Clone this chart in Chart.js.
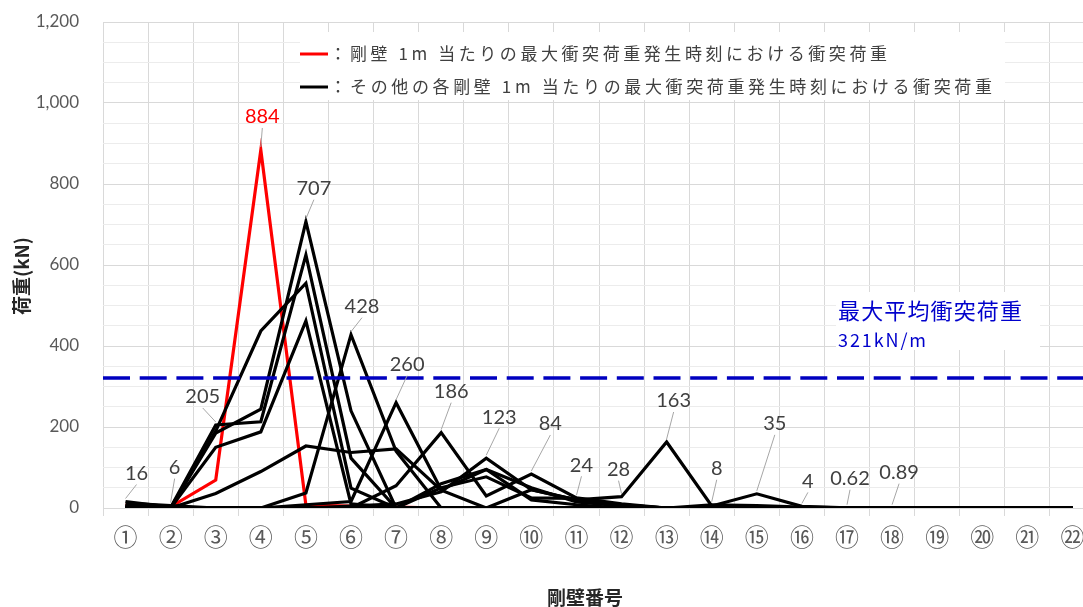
<!DOCTYPE html>
<html><head><meta charset="utf-8">
<script src="https://cdn.jsdelivr.net/npm/chart.js@4.4.1/dist/chart.umd.min.js"></script>
<style>
html,body{margin:0;padding:0;overflow:hidden;background:#fff;width:1083px;height:607px}
canvas{display:block}
</style>
</head><body>
<canvas id="c" width="1100" height="607"></canvas>
<script>
// ---------- data ----------
const wallLabels = ['①','②','③','④','⑤','⑥','⑦','⑧','⑨','⑩','⑪','⑫','⑬','⑭','⑮','⑯','⑰','⑱','⑲','⑳','㉑','㉒'];

// series at the time of the overall maximum per-metre load (red)
const redSeries = [8, 3, 69, 884, 7, 5, 2, 0, 0, 0, 0, 0, 0, 0, 0, 0, 0, 0, 0, 0, 0, 0];

// series at the times of the maximum load of the other walls (black)
const black01 = [16, 2, 0, 0, 0, 0, 0, 0, 0, 0, 0, 0, 0, 0, 0, 0, 0, 0, 0, 0, 0, 0];
const black02 = [12, 6, 0, 0, 0, 0, 0, 0, 0, 0, 0, 0, 0, 0, 0, 0, 0, 0, 0, 0, 0, 0];
const black03 = [6, 1, 205, 213, 625, 123, 0, 0, 0, 0, 0, 0, 0, 0, 0, 0, 0, 0, 0, 0, 0, 0];
const black04 = [4, 0, 185, 244, 707, 240, 0, 0, 0, 0, 0, 0, 0, 0, 0, 0, 0, 0, 0, 0, 0, 0];
const black05 = [3, 0, 190, 437, 555, 49, 0, 0, 0, 0, 0, 0, 0, 0, 0, 0, 0, 0, 0, 0, 0, 0];
const black06 = [2, 0, 150, 188, 462, 10, 0, 0, 0, 0, 0, 0, 0, 0, 0, 0, 0, 0, 0, 0, 0, 0];
const black07 = [5, 0, 36, 90, 153, 137, 146, 44, 0, 0, 0, 0, 0, 0, 0, 0, 0, 0, 0, 0, 0, 0];
const black08 = [0, 0, 0, 0, 37, 428, 140, 0, 0, 0, 0, 0, 0, 0, 0, 0, 0, 0, 0, 0, 0, 0];
const black09 = [0, 0, 0, 0, 8, 16, 260, 45, 95, 20, 8, 0, 0, 0, 0, 0, 0, 0, 0, 0, 0, 0];
const black10 = [0, 0, 0, 0, 0, 0, 55, 186, 30, 84, 25, 10, 0, 0, 0, 0, 0, 0, 0, 0, 0, 0];
const black11 = [0, 0, 0, 0, 0, 5, 10, 40, 123, 45, 20, 8, 0, 0, 0, 0, 0, 0, 0, 0, 0, 0];
const black12 = [0, 0, 0, 0, 0, 0, 0, 60, 95, 50, 15, 5, 0, 0, 0, 0, 0, 0, 0, 0, 0, 0];
const black13 = [0, 0, 0, 0, 0, 0, 0, 50, 77, 25, 24, 8, 0, 0, 0, 0, 0, 0, 0, 0, 0, 0];
const black14 = [0, 0, 0, 0, 0, 0, 0, 0, 0, 45, 20, 28, 163, 5, 35, 4, 0.62, 0.89, 0, 0, 0, 0];
const black15 = [0, 0, 0, 0, 0, 0, 0, 0, 0, 0, 0, 0, 0, 8, 6, 2, 0.5, 0.3, 0, 0, 0, 0];

// maximum load of each wall (data labels)
const peakValues = [16, 6, 205, 884, 707, 428, 260, 186, 123, 84, 24, 28, 163, 8, 35, 4, 0.62, 0.89];
const peakLabels = ['16','6','205','884','707','428','260','186','123','84','24','28','163','8','35','4','0.62','0.89'];
const redPeakIndex = 3;

const avgLoad = 321;
const avgTitle = '最大平均衝突荷重';
const avgText = '321kN/m';
const legendRedText = '剛壁 1m 当たりの最大衝突荷重発生時刻における衝突荷重';
const legendBlackText = 'その他の各剛壁 1m 当たりの最大衝突荷重発生時刻における衝突荷重';
const yTitle = '荷重(kN)';
const xTitle = '剛壁番号';

// ---------- styling (label offsets relative to the point) ----------
const labelOffsets = [[11,-28],[4,-38],[-13,-28],[1.5,-33],[8,-33],[11,-28],[11,-38],[10,-41],[13,-41],
                      [19,-50],[5,-33],[-3,-27],[7,-41],[5,-36],[18,-70],[6,-25],[3,-29],[7,-35]];

const blackSeries = [black01,black02,black03,black04,black05,black06,black07,black08,black09,black10,
                     black11,black12,black13,black14,black15];

function fitText(ctx, text, x, y, width){
  const chars = [...text];
  const ws = chars.map(c => ctx.measureText(c).width);
  const total = ws.reduce((a,b)=>a+b,0);
  const sp = chars.length > 1 ? (width - total) / (chars.length - 1) : 0;
  let cx = x;
  chars.forEach((c,i) => { ctx.fillText(c, cx, y); cx += ws[i] + sp; });
}

const overlay = {
  id: 'overlay',
  beforeDatasetsDraw(chart){
    const ctx = chart.ctx;
    ctx.save();
    ctx.fillStyle = '#ffffff';
    ctx.fillRect(300, 32, 705, 68);
    ctx.fillRect(836, 292, 204, 58);
    ctx.restore();
  },
  afterDatasetsDraw(chart){
    const ctx = chart.ctx, xs = chart.scales.x, ys = chart.scales.y, ca = chart.chartArea;
    ctx.save();
    // average line
    const yAvg = ys.getPixelForValue(avgLoad);
    ctx.strokeStyle = '#0000C0';
    ctx.lineWidth = 3.5;
    ctx.setLineDash([27, 9.7]);
    ctx.beginPath(); ctx.moveTo(ca.left, yAvg); ctx.lineTo(ca.right, yAvg); ctx.stroke();
    ctx.setLineDash([]);
    // data labels with leader lines
    ctx.font = '20px Lato';
    ctx.textAlign = 'center'; ctx.textBaseline = 'middle';
    peakValues.forEach((v,i) => {
      const px = xs.getPixelForValue(i), py = ys.getPixelForValue(v);
      const tx = px + labelOffsets[i][0], ty = py + labelOffsets[i][1];
      const sx = tx, sy = ty + 11, ex = px, ey = py - 3;
      if (Math.hypot(ex-sx, ey-sy) > 6){
        ctx.strokeStyle = '#a6a6a6'; ctx.lineWidth = 1;
        ctx.beginPath(); ctx.moveTo(sx, sy); ctx.lineTo(ex, ey); ctx.stroke();
      }
      ctx.fillStyle = i === redPeakIndex ? '#ff0000' : '#404040';
      ctx.fillText(peakLabels[i], tx, ty);
    });
    ctx.restore();
  },
  afterDraw(chart){
    const ctx = chart.ctx;
    ctx.save();
    // legend
    ctx.lineWidth = 3;
    ctx.strokeStyle = '#ff0000';
    ctx.beginPath(); ctx.moveTo(300, 54); ctx.lineTo(328, 54); ctx.stroke();
    ctx.strokeStyle = '#000000';
    ctx.beginPath(); ctx.moveTo(300, 87); ctx.lineTo(328, 87); ctx.stroke();
    ctx.fillStyle = '#404040';
    ctx.font = '17px "Noto Sans CJK JP"';
    ctx.textBaseline = 'middle';
    ctx.textAlign = 'center';
    ctx.fillText('：', 338, 54);
    ctx.fillText('：', 338, 87);
    ctx.textAlign = 'left';
    fitText(ctx, legendRedText, 350, 54, 537);
    fitText(ctx, legendBlackText, 350, 87, 642);
    // average annotation
    ctx.fillStyle = '#0000CC';
    ctx.font = '22px "Noto Sans CJK JP"';
    fitText(ctx, avgTitle, 838, 311, 184);
    ctx.font = '18px "Noto Sans CJK JP"';
    fitText(ctx, avgText, 838, 340, 88);
    // axis titles
    ctx.fillStyle = '#262626';
    ctx.font = 'bold 19px "Noto Sans CJK JP"';
    ctx.textAlign = 'center';
    ctx.fillText(xTitle, 585, 598);
    ctx.translate(22, 276);
    ctx.rotate(-Math.PI/2);
    ctx.fillText(yTitle, 0, 0);
    ctx.restore();
  }
};

function build(){
  const datasets = [];
  blackSeries.forEach((s,i) => datasets.push({label:'black'+(i+1), data:s, borderColor:'#000000', borderWidth:3.2}));
  datasets.push({label:'red', data:redSeries, borderColor:'#ff0000', borderWidth:3.2});
  new Chart(document.getElementById('c'), {
    type: 'line',
    data: { labels: wallLabels, datasets },
    options: {
      responsive: false, animation: false, devicePixelRatio: 1,
      layout: { padding: { left: 0, right: 5, top: 22, bottom: 0 } },
      plugins: { legend: { display: false }, tooltip: { enabled: false } },
      elements: { point: { radius: 0 }, line: { tension: 0, borderJoinStyle: 'miter', borderCapStyle: 'butt' } },
      scales: {
        x: {
          offset: true,
          grid: { offset: true, color: '#d9d9d9', tickLength: 8, drawTicks: true },
          border: { display: false },
          ticks: { color: '#595959', font: { family: '"Noto Sans CJK JP"', size: 24 }, padding: 6, maxRotation: 0, autoSkip: false },
          afterFit(s){ s.height = 99; }
        },
        y: {
          min: 0, max: 1200,
          ticks: { stepSize: 50, autoSkip: false, padding: 0, color: '#595959', font: { family: 'Lato', size: 17 },
                   callback: v => (v % 200 === 0 ? v.toLocaleString('en-US') : '') },
          grid: { drawTicks: true, tickLength: 24, tickColor: 'rgba(0,0,0,0)',
                  color: c => (c.tick && c.tick.value % 200 === 0 ? '#d9d9d9' : '#ececec') },
          border: { display: false },
          afterFit(s){ s.width = 103; }
        }
      }
    },
    plugins: [overlay]
  });
}
const fontLoads = ['17px Lato','20px Lato','17px "Noto Sans CJK JP"','bold 19px "Noto Sans CJK JP"'].map(f => document.fonts.load(f, '荷重1'));
Promise.all(fontLoads).then(build, build);
</script>
</body></html>
